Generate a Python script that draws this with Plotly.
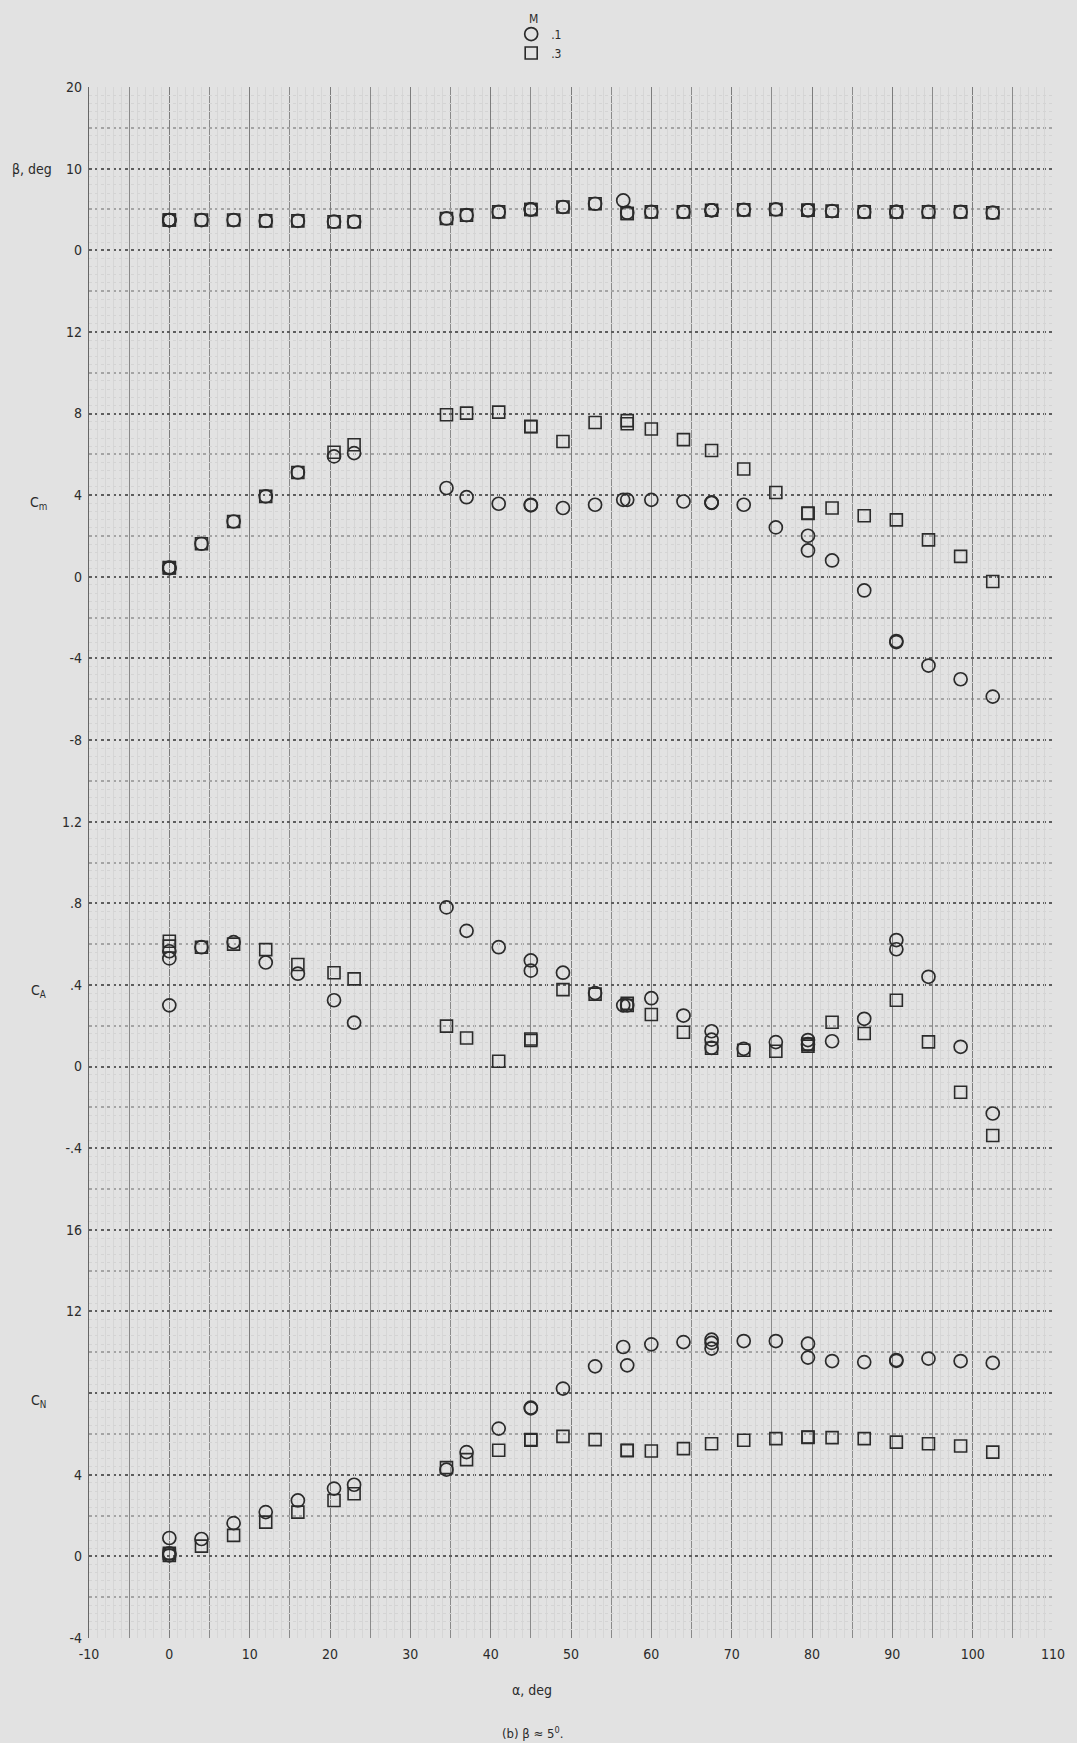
import plotly.graph_objects as go

# ---------------- data ----------------
# M = 0.1 (circles)
alpha_m01 = [0, 0, 0, 4, 8, 12, 16, 20.5, 23, 34.5, 37, 41, 45, 45, 49, 53, 56.5, 57, 60, 64,
             67.5, 67.5, 67.5, 71.5, 75.5, 79.5, 79.5, 82.5, 86.5, 90.5, 90.5, 94.5, 98.5, 102.5]
beta_m01 = [3.7, 3.7, 3.7, 3.7, 3.7, 3.6, 3.6, 3.5, 3.5, 3.9, 4.3, 4.7, 5.0, 5.0, 5.3, 5.7, 6.1, 4.6, 4.7, 4.7,
            4.9, 4.9, 4.9, 4.95, 5.0, 4.9, 4.9, 4.8, 4.7, 4.7, 4.7, 4.7, 4.7, 4.6]
cm_m01 = [0.45, 0.42, 0.43, 1.62, 2.71, 3.94, 5.11, 5.9, 6.06, 4.35, 3.9, 3.58, 3.53, 3.5, 3.37, 3.53, 3.77, 3.77, 3.77, 3.69,
          3.64, 3.64, 3.62, 3.53, 2.42, 2.01, 1.29, 0.8, -0.67, -3.15, -3.2, -4.35, -5.02, -5.87]
ca_m01 = [0.30, 0.53, 0.565, 0.585, 0.61, 0.51, 0.455, 0.325, 0.215, 0.78, 0.665, 0.585, 0.52, 0.47, 0.46, 0.36, 0.30, 0.30, 0.335, 0.25,
          0.173, 0.132, 0.092, 0.087, 0.12, 0.13, 0.11, 0.124, 0.234, 0.62, 0.575, 0.44, 0.097, -0.23]
cn_m01 = [0.9, 0.15, 0.05, 0.85, 1.63, 2.17, 2.74, 3.32, 3.51, 4.25, 5.11, 6.26, 7.29, 7.25, 8.22, 9.31, 10.26, 9.36, 10.39, 10.5,
          10.62, 10.46, 10.18, 10.55, 10.55, 10.42, 9.74, 9.57, 9.52, 9.62, 9.58, 9.69, 9.57, 9.48]

# M = 0.3 (squares)
alpha_m03 = [0, 0, 4, 8, 12, 16, 20.5, 23, 34.5, 37, 41, 45, 45, 49, 53, 57, 57, 60, 64, 67.5,
             71.5, 75.5, 79.5, 79.5, 82.5, 86.5, 90.5, 94.5, 98.5, 102.5]
beta_m03 = [3.7, 3.7, 3.7, 3.7, 3.6, 3.6, 3.5, 3.5, 3.9, 4.3, 4.7, 5.0, 5.0, 5.3, 5.7, 4.5, 4.5, 4.7, 4.7, 4.9,
            4.95, 5.0, 4.9, 4.9, 4.8, 4.7, 4.7, 4.7, 4.7, 4.6]
cm_m03 = [0.43, 0.45, 1.62, 2.71, 3.94, 5.11, 6.1, 6.47, 7.94, 8.02, 8.07, 7.37, 7.35, 6.63, 7.56, 7.65, 7.5, 7.24, 6.72, 6.19,
          5.28, 4.13, 3.12, 3.1, 3.37, 2.99, 2.79, 1.81, 1.0, -0.23]
ca_m03 = [0.614, 0.59, 0.585, 0.60, 0.573, 0.50, 0.46, 0.43, 0.198, 0.14, 0.026, 0.135, 0.128, 0.377, 0.355, 0.30, 0.31, 0.255, 0.168, 0.09,
          0.08, 0.075, 0.10, 0.11, 0.217, 0.162, 0.325, 0.121, -0.126, -0.338]
cn_m03 = [0.15, 0.05, 0.5, 1.03, 1.68, 2.17, 2.74, 3.07, 4.35, 4.74, 5.2, 5.69, 5.72, 5.88, 5.72, 5.2, 5.18, 5.16, 5.28, 5.52,
          5.69, 5.77, 5.85, 5.83, 5.82, 5.77, 5.6, 5.52, 5.41, 5.11]

# tick labels
x_tickvals = [-10, 0, 10, 20, 30, 40, 50, 60, 70, 80, 90, 100, 110]
x_ticktext = ["-10", "0", "10", "20", "30", "40", "50", "60", "70", "80", "90", "100", "110"]
beta_ticks = [0, 10, 20]
beta_ticktext = ["0", "10", "20"]
cm_ticks = [-8, -4, 0, 4, 8, 12]
cm_ticktext = ["-8", "-4", "0", "4", "8", "12"]
ca_ticks = [-0.4, 0, 0.4, 0.8, 1.2]
ca_ticktext = ["-.4", "0", ".4", ".8", "1.2"]
cn_ticks = [-4, 0, 4, 12, 16]
cn_ticktext = ["-4", "0", "4", "12", "16"]

# ---------------- styling ----------------
BG = "#e2e2e2"
INK = "#2b2b2b"
FONT = "Liberation Sans Narrow, DejaVu Sans Condensed, Arial Narrow, sans-serif"

circle_style = dict(symbol="circle-open", size=13, color=INK, line=dict(width=1.7, color=INK))
square_style = dict(symbol="square-open", size=12, color=INK, line=dict(width=1.6, color=INK))

fig = go.Figure()

# grid carrier traces (invisible)
fig.add_trace(go.Scatter(x=[None], y=[None], xaxis="x", yaxis="y", showlegend=False, hoverinfo="skip"))
fig.add_trace(go.Scatter(x=[None], y=[None], xaxis="x2", yaxis="y6", showlegend=False, hoverinfo="skip"))

panels = [
    ("y2", beta_m01, beta_m03),
    ("y3", cm_m01, cm_m03),
    ("y4", ca_m01, ca_m03),
    ("y5", cn_m01, cn_m03),
]
for i, (ax, v01, v03) in enumerate(panels):
    fig.add_trace(go.Scatter(x=alpha_m01, y=v01, xaxis="x", yaxis=ax, mode="markers",
                             marker=circle_style, name=".1", legendgroup="m01",
                             showlegend=(i == 0)))
    fig.add_trace(go.Scatter(x=alpha_m03, y=v03, xaxis="x", yaxis=ax, mode="markers",
                             marker=square_style, name=".3", legendgroup="m03",
                             showlegend=(i == 0)))

tickfont = dict(family=FONT, size=14, color=INK)

data_axis = dict(overlaying="y", anchor="x", side="left", showgrid=False, zeroline=False,
                 showline=False, ticks="", tickfont=tickfont, tickmode="array", ticklabelstandoff=6)

fine_y = [i / 10 for i in range(0, 191) if i % 5 != 0]
fine_x = [v for v in range(-10, 111) if v % 5 != 0]

fig.update_layout(
    width=1077, height=1743,
    margin=dict(l=89, r=14, t=87, b=105),
    paper_bgcolor=BG, plot_bgcolor=BG,
    font=dict(family=FONT, color=INK, size=14),
    showlegend=True,
    legend=dict(x=0.467, xanchor="center", y=1.0435, yanchor="top",
                bgcolor="rgba(0,0,0,0)", font=dict(family=FONT, size=12, color=INK),
                itemwidth=30, tracegroupgap=0, orientation="v"),
    xaxis=dict(range=[-10, 110], tickmode="array", tickvals=x_tickvals, ticktext=x_ticktext,
               showgrid=True, gridcolor="#7c7c7c", gridwidth=1, zeroline=False,
               minor=dict(dtick=5, showgrid=True, gridcolor="#8a8a8a", gridwidth=1),
               showline=False, ticks="", tickfont=tickfont, anchor="y", ticklabelstandoff=6),
    xaxis2=dict(range=[-10, 110], overlaying="x", anchor="y6", tickmode="array", tickvals=fine_x,
                showgrid=True, gridcolor="#d6d6d6", gridwidth=1, showticklabels=False,
                zeroline=False, ticks=""),
    yaxis=dict(range=[0, 19], dtick=1, showticklabels=False, ticks="",
               showgrid=True, gridcolor="#5e5e5e", gridwidth=2, griddash="dot",
               minor=dict(dtick=0.5, showgrid=True, gridcolor="#a4a4a4", gridwidth=1.5, griddash="dot"),
               zeroline=False, showline=True, linecolor="#666666", linewidth=1.2),
    yaxis6=dict(range=[0, 19], overlaying="y", anchor="x2", tickmode="array", tickvals=fine_y,
                showticklabels=False, ticks="", showgrid=True, gridcolor="#d4d4d4", gridwidth=1,
                griddash="dot", zeroline=False),
    yaxis2=dict(range=[-170, 20], tickvals=beta_ticks, ticktext=beta_ticktext, **data_axis),
    yaxis3=dict(range=[-52, 24], tickvals=cm_ticks, ticktext=cm_ticktext, **data_axis),
    yaxis4=dict(range=[-2.8, 4.8], tickvals=ca_ticks, ticktext=ca_ticktext, **data_axis),
    yaxis5=dict(range=[-4, 72], tickvals=cn_ticks, ticktext=cn_ticktext, **data_axis),
)

ann_font = dict(family=FONT, size=14, color=INK)
fig.add_annotation(text="M", xref="paper", yref="paper", x=0.461, y=1 + (87 - 19) / 1551,
                   xanchor="center", yanchor="middle", showarrow=False,
                   font=dict(family=FONT, size=12, color=INK))
fig.add_annotation(text="β, deg", xref="paper", yref="y2", x=-0.036, y=10, xanchor="right",
                   yanchor="middle", showarrow=False, font=ann_font)
fig.add_annotation(text="C<sub>m</sub>", xref="paper", yref="y3", x=-0.052, y=3.6, xanchor="center",
                   yanchor="middle", showarrow=False, font=ann_font)
fig.add_annotation(text="C<sub>A</sub>", xref="paper", yref="y4", x=-0.052, y=0.37, xanchor="center",
                   yanchor="middle", showarrow=False, font=ann_font)
fig.add_annotation(text="C<sub>N</sub>", xref="paper", yref="y5", x=-0.052, y=7.6, xanchor="center",
                   yanchor="middle", showarrow=False, font=ann_font)
fig.add_annotation(text="α, deg", xref="paper", yref="paper", x=0.46, y=-0.0335, xanchor="center",
                   yanchor="middle", showarrow=False, font=ann_font)
fig.add_annotation(text="(b) β ≈ 5<sup>0</sup>.", xref="paper", yref="paper", x=0.46, y=-0.061,
                   xanchor="center", yanchor="middle", showarrow=False, font=dict(family=FONT, size=13, color=INK))

fig.write_html("out.html", config={"displayModeBar": False},
               post_script="document.body.style.margin='0px';document.body.style.background='" + BG + "';")
